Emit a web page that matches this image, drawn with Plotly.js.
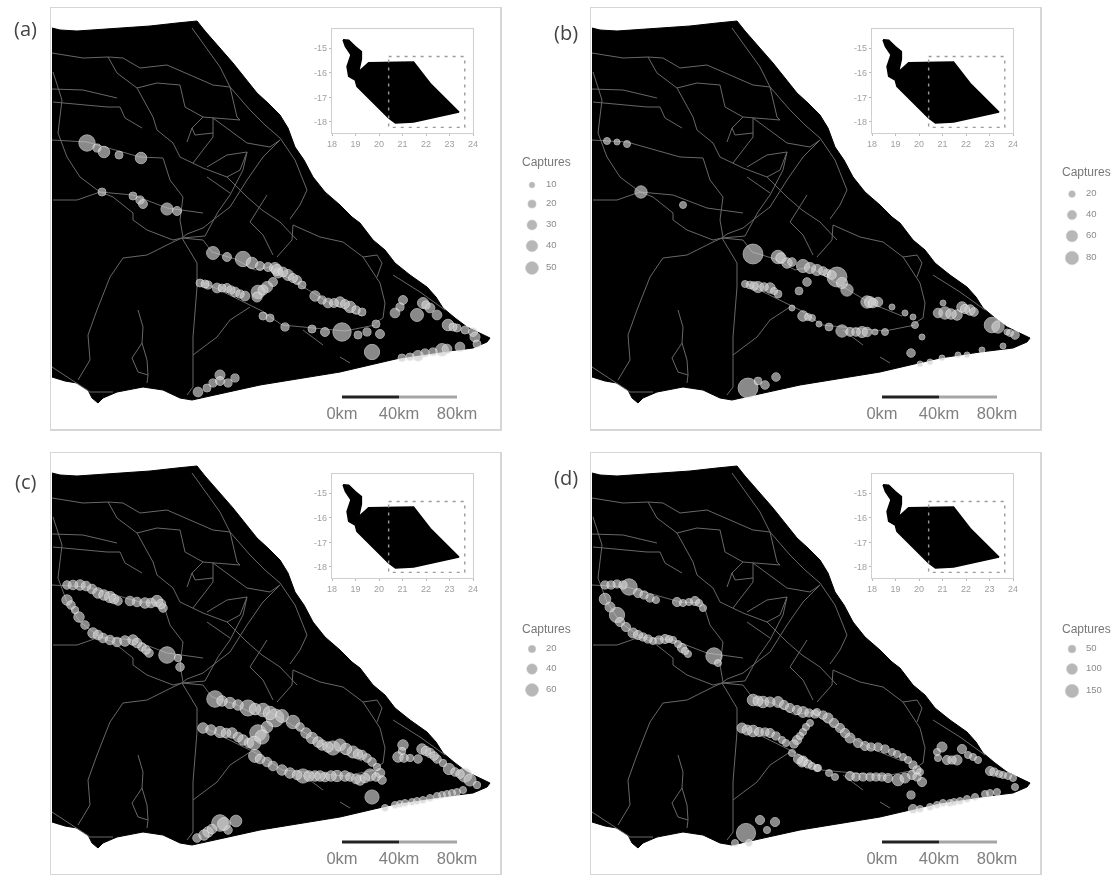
<!DOCTYPE html>
<html><head><meta charset="utf-8">
<script src="https://cdn.plot.ly/plotly-3.0.1.min.js"></script>
<style>html,body{margin:0;padding:0;background:#fff}#chart{width:1119px;height:875px;filter:blur(0.7px)}</style>
</head><body><div id="chart"></div>
<script>
// ---- map base, in map units shared by all four panels
const coastX=[52,60,77,90,110,133,150,177,197,205,218,233,245,257,268,280,288,295,304,313,325,340,352,360,373,385,395,410,427,436,443,455,467,478,490,487,473,440,400,340,280,260,192,180,163,143,117,103,98,92,88,77,65,53,52];
const coastY=[28,30,31,30,29,27,26,23,21,31,46,63,78,93,103,115,128,147,160,177,192,205,217,223,240,250,263,275,287,297,308,318,327,332,338,342,348,352,358,372,382,385,400,398,390,387,392,398,403,398,390,383,381,377,377];
const roads=[
 {x:[52,83,108,123,140,167,190,213,230,250,265,280,295,307,300,290],y:[53,58,57,58,68,65,75,85,87,110,125,138,160,190,205,219]},
 {x:[192,203,220,230,237,240],y:[28,43,67,87,117,120]},
 {x:[108,117,137,153,157,173,180,203,227,247,262,280,297],y:[57,73,88,117,130,143,157,168,177,197,210,222,240]},
 {x:[137,157,180,185,203,213,240],y:[88,83,85,107,117,118,120]},
 {x:[213,213,193],y:[118,137,163]},
 {x:[203,192,195,213],y:[117,128,135,133]},
 {x:[192,187],y:[128,142]},
 {x:[213,247,270,280],y:[118,143,147,140]},
 {x:[207,227,247,240,227],y:[167,155,152,170,177]},
 {x:[280,263,247,230,213,203,187,182],y:[140,157,180,207,220,228,234,238]},
 {x:[247,243,230,218,205,182],y:[152,170,195,212,236,238]},
 {x:[53,62,58,67,80,100,113,133,133,147,173,182],y:[72,100,133,157,177,192,197,213,220,230,240,238]},
 {x:[52,83,117],y:[89,90,98]},
 {x:[53,107,120,125,142],y:[102,107,107,118,128]},
 {x:[52,87,140,163,170,183,180,183],y:[140,142,157,158,180,197,220,237]},
 {x:[53,77,100,133,167,203],y:[200,200,192,195,208,213]},
 {x:[182,173,147,123,110,97,88,90,78],y:[238,242,255,258,277,310,335,360,380]},
 {x:[182,197,197,193,193,187],y:[238,263,287,337,387,395]},
 {x:[193,217,230,250],y:[355,337,320,307]},
 {x:[182,203,212,235,255,270,300,330,362],y:[238,240,252,259,270,267,285,303,316]},
 {x:[250,263,273],y:[222,235,255]},
 {x:[250,267],y:[222,195]},
 {x:[207,230],y:[177,193]},
 {x:[293,320,343,363,380,385,383,375],y:[225,237,242,257,283,303,318,323]},
 {x:[363,377,382,377],y:[257,255,263,277]},
 {x:[393,420,445],y:[275,292,310]},
 {x:[293,292,277],y:[225,240,257]},
 {x:[303,323],y:[330,345]},
 {x:[340,350],y:[357,363]},
 {x:[138,143,142,132,138,148,147],y:[310,327,343,358,372,375,383]},
 {x:[142,147,148],y:[343,360,375]},
 {x:[52,77,90,113],y:[367,383,392,392]},
 {x:[205,262,282,345,375],y:[283,311,325,331,325]}
];
// ---- captures, one set per panel
const aX=[87,97,104,119,141,102,133,140,143,167,177,213,227,243,252,260,268,275,278,273,267,258,257,200,208,217,227,235,245,263,270,198,207,213,220,220,228,235,277,288,297,302,315,328,340,350,362,285,312,325,342,358,367,376,380,372,403,400,395,417,423,430,437,448,457,473,475,477,460,442,433,418,410,402,
 322,334,345,356,205,222,231,240,263,283,293,426,453,465,447,425];
const aY=[143,148,152,155,158,192,196,200,204,209,211,253,257,259,263,266,267,268,273,282,287,292,297,283,285,288,288,292,296,316,318,392,388,383,375,381,383,378,270,275,280,285,296,303,302,307,312,327,329,332,332,335,332,324,334,352,300,307,313,315,303,308,315,325,328,332,337,344,347,350,352,356,357,358,
 300,303,304,310,284,288,290,294,290,272,278,305,327,330,349,353];
const aN=[40,10,20,8,20,7,8,10,12,22,12,25,12,35,20,12,12,18,15,12,18,28,15,6,10,14,12,14,14,8,8,14,8,10,15,12,10,10,18,18,12,6,16,14,16,20,6,10,6,12,50,8,10,8,12,35,12,10,14,25,18,14,14,20,6,12,15,8,14,25,10,18,8,5,
 10,12,12,10,8,8,10,10,15,14,12,10,5,6,14,10];
const bX=[67,77,87,101,143,213,238,247,263,277,287,297,307,210,218,230,238,267,259,252,263,272,279,289,302,208,218,225,236,310,327,338,352,365,373,322,335,345,375,382,371,398,405,417,422,430,403,452,467,475,463,442,427,418,402,390,380,
 241,252,270,283,292,302,205,214,224,234,268,411,425,434,458,470,330,333,316,327];
const bY=[141,142,144,192,205,254,257,263,266,270,273,277,290,285,287,288,294,282,291,308,316,318,324,327,331,388,381,385,377,332,302,302,307,313,317,332,332,332,325,337,353,313,313,315,307,310,303,325,332,335,346,350,355,355,358,362,364,
 258,262,268,271,275,283,284,286,287,291,317,314,309,312,327,333,302,303,332,332];
const bN=[8,5,8,25,8,65,30,18,28,20,10,65,25,10,20,18,10,12,10,6,18,8,3,10,25,65,10,12,12,12,25,15,6,6,3,20,2,8,8,5,12,15,25,18,18,18,3,40,6,12,6,4,6,3,3,2,1.5,
 18,12,20,12,12,20,8,12,12,8,8,18,14,12,25,8,20,15,12,15];
const cX=[67,80,92,98,110,118,137,145,157,163,67,75,79,93,103,117,133,142,149,167,178,180,215,230,248,263,275,203,220,232,243,258,267,255,267,282,290,303,315,325,337,345,293,300,312,322,333,340,353,362,372,360,370,380,382,372,403,398,410,418,422,430,437,449,465,470,477,457,442,423,412,400,385,197,208,220,228,236,
 73,86,104,114,130,151,161,71,85,98,110,125,137,146,222,238,255,270,282,306,318,328,346,358,367,377,211,226,238,249,262,254,260,273,297,309,320,331,350,356,365,376,402,404,426,434,443,455,460,395,405,417,430,437,447,452,463,212,204,224];
const cY=[140,140,144,148,152,156,157,158,156,163,155,165,172,188,193,197,195,202,208,210,213,222,254,258,263,265,273,283,287,288,295,288,282,311,317,325,328,331,331,332,331,331,277,282,293,300,303,300,307,310,317,335,330,328,335,352,300,312,313,314,304,308,314,324,330,335,340,347,350,355,357,359,363,393,387,378,385,376,
 140,141,150,154,156,158,159,160,180,190,195,196,198,205,256,260,264,268,271,288,297,302,304,309,313,322,285,288,292,298,292,298,314,321,330,331,331,331,332,334,333,332,306,313,306,311,318,327,329,360,358,356,353,351,349,348,345,384,390,379];
const cN=[8,12,10,12,14,8,10,12,14,8,12,6,12,12,10,10,12,8,8,30,6,8,30,14,28,20,35,12,14,12,12,30,14,18,10,12,12,22,12,10,14,12,20,8,14,12,22,16,16,10,8,12,16,10,8,22,12,12,6,8,12,10,8,14,22,16,6,2,2,2,2,2,1.5,8,12,30,8,15,
 10,10,12,10,10,10,10,8,8,10,10,12,10,8,12,12,14,20,18,12,12,12,14,10,8,6,12,10,10,10,22,20,10,10,10,12,12,12,8,10,10,8,6,8,10,8,6,8,8,2,2,2,2,2,2,2,2,10,12,18];
const dX=[65,77,89,98,110,137,155,163,65,77,80,93,103,113,125,133,142,148,174,178,213,223,238,250,263,275,202,213,230,242,270,263,257,252,263,277,206,220,227,235,195,209,277,288,300,310,325,338,352,363,373,262,278,289,295,310,323,342,358,372,382,380,371,373,402,398,407,417,422,433,450,463,473,475,457,420,403,390,
 71,83,104,116,143,149,159,70,86,98,108,119,129,138,145,218,230,244,257,269,283,294,305,318,331,345,357,368,377,207,219,225,236,246,266,260,254,258,268,272,316,330,336,348,365,377,397,412,428,438,454,459,468,380,397,410,414,427,435,445,450];
const dY=[140,139,142,148,153,157,156,163,154,170,177,188,192,196,194,195,203,209,211,218,255,257,257,263,267,269,283,286,288,295,278,287,295,308,316,323,388,375,385,377,398,398,267,273,283,293,301,302,307,312,320,317,323,328,332,331,332,332,335,330,337,327,350,364,302,313,315,315,304,312,326,330,333,342,347,356,358,362,
 140,140,150,155,158,157,158,162,182,190,194,195,194,199,206,256,257,260,265,268,270,278,288,298,302,304,309,315,325,285,287,287,291,298,282,291,299,314,319,321,332,332,332,333,333,332,307,315,310,315,327,329,331,364,360,358,357,354,352,349,348];
const dN=[20,20,80,25,20,25,25,15,40,70,25,30,20,10,25,15,25,12,80,10,40,40,35,25,35,20,30,40,25,15,10,15,25,15,30,15,110,25,15,25,5,5,15,30,25,30,25,20,15,15,20,30,12,3,6,25,20,20,40,25,25,10,20,25,30,15,25,30,25,15,25,8,10,8,8,12,8,8,
 20,20,20,15,15,15,15,30,25,25,20,20,15,15,15,30,30,25,25,20,20,25,25,25,20,20,15,15,20,30,25,20,20,15,15,15,20,25,20,15,20,20,20,25,30,20,15,20,15,10,20,10,8,12,8,8,10,8,8,6,6];
// ---- scale bar and legends
const scaleX=[342,399,457];
const scaleTicks=['0km','40km','80km'];
const legendA=[10,20,30,40,50], legendAy=[185,204,225,246,268];
const legendB=[20,40,60,80], legendBy=[194,215,236,258];
const legendC=[20,40,60], legendCy=[649,669,690];
const legendD=[50,100,150], legendDy=[649,669,691];
// ---- inset
const insetX=[18.47,18.71,18.99,19.25,19.25,19.13,19.56,21.47,22.18,23.4,21.47,20.7,20.41,19.06,18.99,18.71,18.64,18.81,18.57,18.47];
const insetY=[-14.66,-14.68,-14.93,-15.14,-15.45,-15.96,-15.59,-15.56,-16.44,-17.6,-18.0,-18.04,-17.84,-16.55,-16.3,-16.14,-15.75,-15.27,-14.93,-14.66];
const boxX=[20.41,23.65,23.65,20.41,20.41];
const boxY=[-15.34,-15.34,-18.22,-18.22,-15.34];
const insetXTicks=[18,19,20,21,22,23,24];
const insetYTicks=[-15,-16,-17,-18];

const W=1119,H=875;
const panels=[
 {ax:'',  dx:0,  dy:0,  X:aX,Y:aY,N:aN,sr:0.3, smin:4,leg:0.59,lx:532,lv:legendA,ly:legendAy,ty:163,lab:'(a)',la:[25,28]},
 {ax:'2', dx:540,dy:0,  X:bX,Y:bY,N:bN,sr:0.33,smin:3,leg:0.88,lx:1072,lv:legendB,ly:legendBy,ty:173,lab:'(b)',la:[566,32]},
 {ax:'3', dx:0,  dy:445,X:cX,Y:cY,N:cN,sr:0.22,smin:3.5,leg:0.71,lx:532,lv:legendC,ly:legendCy,ty:630,lab:'(c)',la:[25,481]},
 {ax:'4', dx:540,dy:445,X:dX,Y:dY,N:dN,sr:0.6,smin:3.5,leg:1.65,lx:1072,lv:legendD,ly:legendDy,ty:630,lab:'(d)',la:[566,477]}
];
const data=[];
const layout={width:W,height:H,margin:{l:0,r:0,t:0,b:0},paper_bgcolor:'#fff',plot_bgcolor:'rgba(0,0,0,0)',showlegend:false,annotations:[],
 xaxis9:{domain:[0,1],range:[0,W],visible:false,anchor:'y9',fixedrange:true},
 yaxis9:{domain:[0,1],range:[H,0],visible:false,anchor:'x9',fixedrange:true}};
const dom=(a,b,s)=>[a/s,b/s];
const domY=(t,b)=>[1-b/H,1-t/H];
panels.forEach((p,i)=>{
  const xa='x'+p.ax, ya='y'+p.ax;
  const frame={showgrid:false,zeroline:false,showticklabels:false,ticks:'',showline:true,mirror:true,linecolor:'#d6d6d6',linewidth:1.5,fixedrange:true};
  layout['xaxis'+p.ax]={...frame,domain:dom(51+p.dx,500+p.dx,W),range:[51,500],anchor:ya};
  layout['yaxis'+p.ax]={...frame,domain:domY(8+p.dy,429+p.dy),range:[429,8],anchor:xa};
  data.push({type:'scatter',mode:'lines',x:coastX,y:coastY,xaxis:xa,yaxis:ya,fill:'toself',fillcolor:'#000',line:{color:'#000',width:1},hoverinfo:'skip'});
  roads.forEach(r=>data.push({type:'scatter',mode:'lines',x:r.x,y:r.y,xaxis:xa,yaxis:ya,line:{color:'#686868',width:1},hoverinfo:'skip'}));
  data.push({type:'scatter',mode:'markers',x:p.X,y:p.Y,xaxis:xa,yaxis:ya,marker:{size:p.N,sizemode:'area',sizeref:p.sr,sizemin:p.smin,color:'rgba(205,205,205,0.95)',line:{color:'rgba(238,238,238,0.95)',width:1}},hoverinfo:'skip',cliponaxis:false});
  data.push({type:'scatter',mode:'lines',x:scaleX.slice(0,2),y:[397,397],xaxis:xa,yaxis:ya,line:{color:'#222',width:3},hoverinfo:'skip'});
  data.push({type:'scatter',mode:'lines',x:scaleX.slice(1,3),y:[397,397],xaxis:xa,yaxis:ya,line:{color:'#a5a5a5',width:3},hoverinfo:'skip'});
  data.push({type:'scatter',mode:'text',x:scaleX,y:[415,415,415],text:scaleTicks,xaxis:xa,yaxis:ya,textposition:'middle center',textfont:{family:'Liberation Sans, Arial',size:16.5,color:'#808080'},hoverinfo:'skip',cliponaxis:false});
  // inset
  const n=String(5+i), ix='x'+n, iy='y'+n;
  const tick={showgrid:false,zeroline:false,showline:true,mirror:true,linecolor:'#cfcfcf',linewidth:1.2,ticks:'outside',ticklen:2,tickcolor:'#bbb',tickwidth:1,fixedrange:true,tickfont:{family:'Liberation Sans, Arial',size:9,color:'#a0a0a0'}};
  layout['xaxis'+n]={...tick,domain:dom(332+p.dx,473+p.dx,W),range:[18,24],anchor:iy,tickmode:'array',tickvals:insetXTicks,ticktext:insetXTicks.map(String)};
  layout['yaxis'+n]={...tick,domain:domY(29+p.dy,133+p.dy),range:[-18.45,-14.22],anchor:ix,tickmode:'array',tickvals:insetYTicks,ticktext:insetYTicks.map(String)};
  data.push({type:'scatter',mode:'lines',x:insetX,y:insetY,xaxis:ix,yaxis:iy,fill:'toself',fillcolor:'#000',line:{color:'#000',width:1.5},hoverinfo:'skip'});
  data.push({type:'scatter',mode:'lines',x:boxX,y:boxY,xaxis:ix,yaxis:iy,line:{color:'#9a9a9a',width:1.4,dash:'3px,5px'},hoverinfo:'skip'});
  // legend
  data.push({type:'scatter',mode:'markers',x:p.lv.map(()=>p.lx),y:p.ly,xaxis:'x9',yaxis:'y9',marker:{size:p.lv,sizemode:'area',sizeref:p.leg,color:'#999',line:{color:'#b5b5b5',width:0.5}},hoverinfo:'skip',cliponaxis:false});
  data.push({type:'scatter',mode:'text',x:p.lv.map(()=>p.lx+14),y:p.ly,text:p.lv.map(String),xaxis:'x9',yaxis:'y9',textposition:'middle right',textfont:{family:'Liberation Sans, Arial',size:9.5,color:'#8a8a8a'},hoverinfo:'skip',cliponaxis:false});
  data.push({type:'scatter',mode:'text',x:[p.lx-10],y:[p.ty],text:['Captures'],xaxis:'x9',yaxis:'y9',textposition:'middle right',textfont:{family:'Liberation Sans, Arial',size:12,color:'#777'},hoverinfo:'skip',cliponaxis:false});
  layout.annotations.push({text:p.lab,xref:'paper',yref:'paper',x:p.la[0]/W,y:1-p.la[1]/H,showarrow:false,xanchor:'center',yanchor:'middle',font:{family:'Open Sans',size:20,color:'#444'}});
});
Plotly.newPlot('chart',data,layout,{staticPlot:true,displayModeBar:false});
</script></body></html>
